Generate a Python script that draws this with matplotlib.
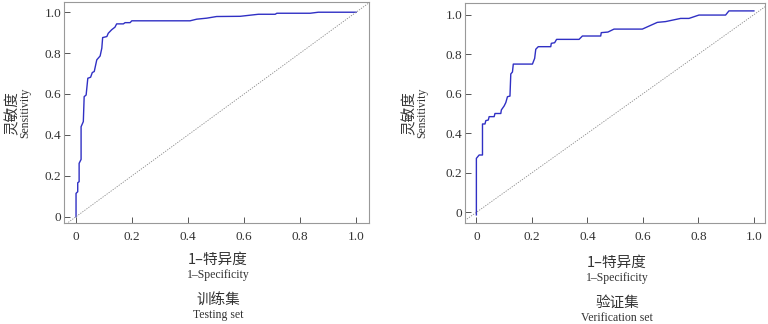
import numpy as np
import matplotlib.pyplot as plt

plt.rcParams['font.family'] = ['Liberation Serif', 'Noto Sans CJK SC', 'DejaVu Sans']
plt.rcParams['axes.edgecolor'] = '#999999'
plt.rcParams['axes.linewidth'] = 0.8

LINE_COLOR = '#3030c4'
TEXT_COLOR = '#333333'
CJK = ['Noto Sans CJK SC', 'DejaVu Sans']

# ROC points (1-specificity, sensitivity)
train_fpr = [0, 0, 0.006, 0.006, 0.011, 0.011, 0.018, 0.018, 0.026, 0.029, 0.036,
             0.042, 0.052, 0.058, 0.065, 0.074, 0.086, 0.092, 0.095, 0.11, 0.115,
             0.127, 0.139, 0.145, 0.169, 0.175, 0.193, 0.199, 0.407, 0.431, 0.467,
             0.502, 0.586, 0.651, 0.711, 0.717, 0.836, 0.865, 1.0]
train_tpr = [0, 0.114, 0.122, 0.166, 0.171, 0.261, 0.28, 0.44, 0.465, 0.587, 0.595,
             0.677, 0.682, 0.705, 0.71, 0.767, 0.786, 0.824, 0.876, 0.881, 0.897,
             0.914, 0.927, 0.943, 0.943, 0.949, 0.949, 0.958, 0.958, 0.966, 0.971,
             0.979, 0.98, 0.99, 0.99, 0.995, 0.995, 1.0, 1.0]

valid_fpr = [0, 0, 0.01, 0.022, 0.022, 0.031, 0.034, 0.043, 0.046, 0.064, 0.067,
             0.088, 0.09, 0.1, 0.106, 0.112, 0.121, 0.124, 0.13, 0.133, 0.202,
             0.21, 0.214, 0.223, 0.268, 0.27, 0.282, 0.289, 0.37, 0.382, 0.448,
             0.45, 0.474, 0.496, 0.598, 0.652, 0.682, 0.736, 0.766, 0.802, 0.898,
             0.91, 1.0]
valid_tpr = [-0.013, 0.273, 0.29, 0.29, 0.447, 0.447, 0.464, 0.467, 0.484, 0.484, 0.5,
             0.5, 0.518, 0.538, 0.555, 0.585, 0.588, 0.7, 0.71, 0.75, 0.75,
             0.779, 0.825, 0.838, 0.838, 0.855, 0.858, 0.875, 0.875, 0.892, 0.892,
             0.909, 0.912, 0.927, 0.927, 0.961, 0.965, 0.981, 0.981, 0.998, 0.998,
             1.019, 1.019]

ticks = [0, 0.2, 0.4, 0.6, 0.8, 1.0]
tick_labels = ['0', '0.2', '0.4', '0.6', '0.8', '1.0']

fig = plt.figure(figsize=(7.68, 3.24), dpi=100)
ax1 = fig.add_axes([64 / 768, 1 - 223 / 324, 305 / 768, 221 / 324])
ax2 = fig.add_axes([465 / 768, 1 - 223 / 324, 300 / 768, 220 / 324])


def draw_roc(ax, fpr, tpr, xlim, ylim):
    ax.plot(fpr, tpr, color=LINE_COLOR, linewidth=1.0)
    ax.plot([-0.1, 1.1], [-0.1, 1.1], color='#888888', linewidth=0.6,
            linestyle=(0, (1.5, 1.5)))
    ax.set_xlim(*xlim)
    ax.set_ylim(*ylim)
    ax.set_xticks(ticks)
    ax.set_xticklabels(tick_labels)
    ax.set_yticks(ticks)
    ax.set_yticklabels(tick_labels)
    ax.tick_params(axis='both', direction='in', length=4, width=0.7,
                   colors='#555555', labelcolor=TEXT_COLOR, labelsize=9.5)
    ax.tick_params(axis='x', pad=6)
    ax.tick_params(axis='y', pad=2)


draw_roc(ax1, train_fpr, train_tpr, (-0.043, 1.046), (-0.031, 1.05))
draw_roc(ax2, valid_fpr, valid_tpr, (-0.041, 1.04), (-0.054, 1.059))

# axis titles, Chinese above English
panels = [
    (218, 13, 25.5, '训练集', 'Testing set', 0),
    (617, 410, 422, '验证集', 'Verification set', 3),
]
for xc, ycn, yen, cn_title, en_title, dy in panels:
    fig.text(xc / 768, 1 - (260 + dy) / 324, '1–特异度', family=CJK, fontsize=10.5,
             color=TEXT_COLOR, ha='center', va='center')
    fig.text(xc / 768, 1 - (275 + dy) / 324, '1–Specificity', fontsize=8.5,
             color=TEXT_COLOR, ha='center', va='center')
    fig.text(xc / 768, 1 - (300 + dy) / 324, cn_title, family=CJK, fontsize=10.5,
             color=TEXT_COLOR, ha='center', va='center')
    fig.text(xc / 768, 1 - (315 + dy) / 324, en_title, fontsize=8.5,
             color=TEXT_COLOR, ha='center', va='center')
    fig.text(ycn / 768, 1 - 113 / 324, '灵敏度', family=CJK, fontsize=10.5,
             color=TEXT_COLOR, ha='center', va='center', rotation=90)
    fig.text(yen / 768, 1 - 113 / 324, 'Sensitivity', fontsize=8.5,
             color=TEXT_COLOR, ha='center', va='center', rotation=90)

fig.savefig('out.png', dpi=100)
